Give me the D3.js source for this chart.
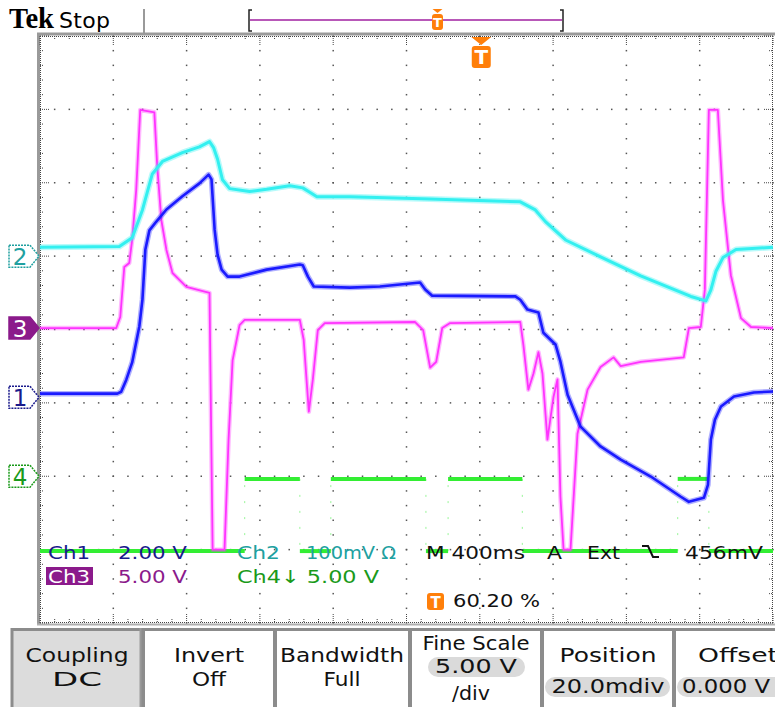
<!DOCTYPE html>
<html>
<head>
<meta charset="UTF-8">
<title>Tek capture</title>
<script src="https://cdn.jsdelivr.net/npm/d3@7/dist/d3.min.js"></script>
<style type="text/css">
body { margin: 0; background: #fff; }
svg { display: block; font-family: "DejaVu Sans", sans-serif; }
</style>
</head>
<body>
<div class="scope"></div>
<script>
// acquisition
var timePerDiv = 400;      // ms / div
var triggerPct = 60.2;     // trigger position, % of record
var divsX = 10, divsY = 8;

// Ch1, 2.00 V/div
var ch1Time  = [-2408,-1986,-1965,-1937,-1905,-1866,-1849,-1833,-1811,-1773,-1718,-1631,-1538,-1488,-1472,-1455,-1439,-1417,-1384,-1319,-1171,-990,-974,-946,-914,-717,-553,-334,-306,-268,186,213,252,312,339,405,432,471,542,651,761,925,1089,1133,1215,1237,1253,1275,1308,1379,1488,1592];
var ch1Volts = [0.1,0.1,0.15,0.48,0.95,1.93,2.66,4.03,4.55,4.79,5.12,5.48,5.83,6.07,5.94,4.57,3.89,3.48,3.29,3.29,3.48,3.62,3.6,3.29,3.02,2.99,3.02,3.13,2.94,2.77,2.75,2.66,2.39,2.31,1.76,1.44,0.97,0.07,-0.8,-1.34,-1.7,-2.16,-2.71,-2.85,-2.74,-2.39,-1.15,-0.61,-0.25,0.02,0.13,0.16];

// Ch2, 100 mV/div
var ch2Time = [-2408,-1975,-1905,-1849,-1795,-1740,-1631,-1538,-1483,-1461,-1439,-1412,-1373,-1264,-1171,-1045,-974,-936,-897,-717,-279,213,295,350,460,651,870,1144,1226,1253,1280,1319,1390,1592];
var ch2mV   = [12,13,25,63,112,129,141,149,156,148,132,104,92,88,91,96,93,87,81,81,78,74,63,47,22,-1,-27,-55,-61,-46,-21,-2,9,12];

// Ch3, 5.00 V/div
var ch3Time  = [-2408,-1992,-1970,-1948,-1921,-1905,-1883,-1861,-1784,-1768,-1746,-1718,-1685,-1609,-1483,-1466,-1401,-1379,-1357,-1319,-1291,-990,-969,-941,-919,-892,-854,-361,-317,-279,-246,-213,-170,213,230,257,285,312,334,361,394,416,432,449,487,525,580,651,722,761,870,1105,1133,1198,1220,1242,1291,1319,1362,1417,1472,1592];
var ch3Volts = [0,0,0.75,4.16,4.43,6.0,9.4,14.86,14.7,10.98,7.36,5.32,3.75,2.8,2.39,-15.1,-15.1,-7.6,-2.2,0.2,0.55,0.55,-0.8,-5.7,-3.5,-0.14,0.34,0.41,-0.14,-2.7,-2.3,0,0.34,0.41,-1.16,-4.2,-3.1,-1.64,-3.1,-7.6,-4.7,-3.5,-11.5,-15.1,-15.1,-7.2,-4.2,-2.66,-2.0,-2.6,-2.3,-2.0,0,0.07,2.6,14.86,14.86,8.7,3.6,0.68,0.07,0];

// Ch4, 5.00 V/div (logic level, steps)
var ch4Time  = [-2408,-1291,-990,-821,-302,-181,224,1072,1242,1592];
var ch4Volts = [-5.1,-0.18,-5.1,-0.18,-5.1,-0.18,-5.1,-0.18,-5.1,-5.1];

// readouts
var readRow1 = ["Ch1","2.00 V","Ch2","100mV \u03a9","M 400ms","A","Ext","456mV"];
var readRow2 = ["Ch3","5.00 V","Ch4\u2193 5.00 V"];
var trigReadout = "60.20 %";
var menuTitles = ["Coupling","Invert","Bandwidth","Fine Scale","Position","Offset"];
var menuValues = ["DC","Off","Full","5.00 V","20.0mdiv","0.000 V"];

var W = 775, H = 707;
var L = 40, R = 773, T = 36, B = 623;

var svg = d3.select(".scope").append("svg")
	.attr("width", W)
	.attr("height", H);

var tStart = -triggerPct / 100 * divsX * timePerDiv;
var x = d3.scaleLinear()
	.domain([tStart, tStart + divsX * timePerDiv])
	.range([L, R]);
var gx = d3.scaleLinear().domain([0, divsX]).range([L, R]);
var gy = d3.scaleLinear().domain([-divsY / 2, divsY / 2]).range([B, T]);

function chanY(vdiv, pos) {
	return d3.scaleLinear()
		.domain([(-divsY / 2 - pos) * vdiv, (divsY / 2 - pos) * vdiv])
		.range([B, T]);
}
var y1 = chanY(2, -0.924);
var y2 = chanY(100, 1.0);
var y3 = chanY(5, 0.02);
var y4 = chanY(5, -2.0);

// ---- graticule
var grid = svg.append("g");
var minors = d3.range(0, divsX * 5 + 1).map(function(d){ return d / 5; });
var minorsY = d3.range(0, divsY * 5 + 1).map(function(d){ return d / 5 - divsY / 2; });

d3.range(1, divsX).forEach(function(i){
	grid.selectAll(null).data(minorsY).enter().append("rect")
		.attr("x", gx(i) - 0.75).attr("y", function(d){ return gy(d) - 0.75; })
		.attr("width", 1.5).attr("height", 1.5).attr("fill", "#555");
});
d3.range(-divsY / 2 + 1, divsY / 2).forEach(function(j){
	grid.selectAll(null).data(minors).enter().append("rect")
		.attr("x", function(d){ return gx(d) - 0.75; }).attr("y", gy(j) - 0.75)
		.attr("width", 1.5).attr("height", 1.5).attr("fill", "#555");
});

// frame edges with ticks
grid.append("line").attr("x1", 37).attr("x2", W).attr("y1", 34).attr("y2", 34)
	.attr("stroke", "#9a9a9a").attr("stroke-width", 3);
grid.append("line").attr("x1", 38.5).attr("x2", 38.5).attr("y1", 33).attr("y2", 625)
	.attr("stroke", "#9a9a9a").attr("stroke-width", 3);
grid.append("line").attr("x1", 37).attr("x2", W).attr("y1", 624.5).attr("y2", 624.5)
	.attr("stroke", "#b0b0b0").attr("stroke-width", 2);

var edge = [
	[L + 0.5, T, L + 0.5, B], [R - 0.5, T, R - 0.5, B],
	[L, T + 0.5, R, T + 0.5], [L, B - 0.5, R, B - 0.5]
];
grid.selectAll(null).data(edge).enter().append("line")
	.attr("x1", function(d){ return d[0]; }).attr("y1", function(d){ return d[1]; })
	.attr("x2", function(d){ return d[2]; }).attr("y2", function(d){ return d[3]; })
	.attr("stroke", "#444").attr("stroke-dasharray", "1,1");

minors.forEach(function(d){
	var len = (Math.abs(d - Math.round(d)) < 0.01) ? 9 : 4;
	grid.append("line").attr("x1", gx(d)).attr("x2", gx(d)).attr("y1", T).attr("y2", T + len)
		.attr("stroke", "#444").attr("stroke-dasharray", "1,1");
	grid.append("line").attr("x1", gx(d)).attr("x2", gx(d)).attr("y1", B - len).attr("y2", B)
		.attr("stroke", "#444").attr("stroke-dasharray", "1,1");
});
minorsY.forEach(function(d){
	var len = (Math.abs(d - Math.round(d)) < 0.01) ? 9 : 4;
	grid.append("line").attr("x1", L).attr("x2", L + len).attr("y1", gy(d)).attr("y2", gy(d))
		.attr("stroke", "#444").attr("stroke-dasharray", "1,1");
	grid.append("line").attr("x1", R - len).attr("x2", R).attr("y1", gy(d)).attr("y2", gy(d))
		.attr("stroke", "#444").attr("stroke-dasharray", "1,1");
});

// ---- traces
var plot = svg.append("g");

function drawTrace(times, vals, ys, color, wide, thin) {
	var pts = times.map(function(t, i){ return [t, vals[i]]; });
	var line = d3.line().x(function(d){ return x(d[0]); }).y(function(d){ return ys(d[1]); });
	plot.append("path").attr("d", line(pts)).attr("fill", "none")
		.attr("stroke", color).attr("stroke-width", wide).attr("stroke-opacity", 0.35)
		.attr("stroke-linejoin", "round");
	plot.append("path").attr("d", line(pts)).attr("fill", "none")
		.attr("stroke", color).attr("stroke-width", thin)
		.attr("stroke-linejoin", "round");
}

// Ch4 steps: levels thick, edges faint
var ch4Col = "#33ee33";
ch4Time.slice(0, -1).forEach(function(t, i){
	var lvl = ch4Volts[i];
	plot.append("line")
		.attr("x1", x(t)).attr("x2", x(ch4Time[i + 1]))
		.attr("y1", y4(lvl)).attr("y2", y4(lvl))
		.attr("stroke", ch4Col).attr("stroke-width", 4);
	if (i > 0) {
		plot.append("line")
			.attr("x1", x(t)).attr("x2", x(t))
			.attr("y1", y4(ch4Volts[i - 1])).attr("y2", y4(lvl))
			.attr("stroke", ch4Col).attr("stroke-opacity", 0.5)
			.attr("stroke-dasharray", "2,14");
	}
});

drawTrace(ch3Time, ch3Volts, y3, "#ff33ff", 4.5, 1.8);
drawTrace(ch1Time, ch1Volts, y1, "#1a1aff", 5.5, 2.6);
drawTrace(ch2Time, ch2mV, y2, "#33f0f0", 6, 3);

// ---- channel ground markers
function marker(yc, label, stroke, fill, txt) {
	var g = svg.append("g");
	var p = "M9," + (yc - 11) + "H30L39," + yc + "L30," + (yc + 11) + "H9Z";
	g.append("path").attr("d", p)
		.attr("fill", fill || "#fff")
		.attr("stroke", stroke).attr("stroke-width", 1.5)
		.attr("stroke-dasharray", fill ? null : "2,1");
	g.append("text").attr("x", 20).attr("y", yc + 8.5)
		.attr("text-anchor", "middle").attr("font-size", 23)
		.attr("fill", txt).text(label);
}
marker(y2(0), "2", "#20a0a0", null, "#20a0a0");
marker(y3(0), "3", "#8b1a8b", "#8b1a8b", "#fff");
marker(y1(0), "1", "#1a1a8c", null, "#1a1a8c");
marker(y4(0), "4", "#1a9a1a", null, "#1a9a1a");

// ---- top status bar
svg.append("text").attr("x", 9).attr("y", 28)
	.attr("font-family", "Liberation Serif, serif").attr("font-weight", "bold")
	.attr("font-size", 29).attr("textLength", 45).attr("lengthAdjust", "spacingAndGlyphs")
	.text("Tek");
svg.append("text").attr("x", 59).attr("y", 28)
	.attr("font-size", 22).attr("textLength", 51).text("Stop");
svg.append("line").attr("x1", 144).attr("x2", 144).attr("y1", 9).attr("y2", 34)
	.attr("stroke", "#9a9a9a").attr("stroke-width", 2);

svg.append("path").attr("d", "M252,10H249V31H252").attr("fill", "none")
	.attr("stroke", "#222").attr("stroke-width", 1.5);
svg.append("path").attr("d", "M560,10H563V31H560").attr("fill", "none")
	.attr("stroke", "#222").attr("stroke-width", 1.5);
svg.append("line").attr("x1", 250).attr("x2", 562).attr("y1", 20).attr("y2", 20)
	.attr("stroke", "#a020a0").attr("stroke-width", 1.5);

var orange = "#ff7f0a";
function trigIcon(cx, top, w, h, tri, fs) {
	var g = svg.append("g");
	g.append("path").attr("d", "M" + (cx - tri) + "," + top + "L" + (cx + tri) + "," + top + "L" + cx + "," + (top + tri * 0.8) + "Z")
		.attr("fill", orange);
	g.append("rect").attr("x", cx - w / 2).attr("y", top + tri * 0.8 + 1)
		.attr("width", w).attr("height", h).attr("rx", 3).attr("fill", orange);
	g.append("text").attr("x", cx).attr("y", top + tri * 0.8 + 1 + h / 2 + fs * 0.36)
		.attr("text-anchor", "middle").attr("font-size", fs).attr("font-weight", "bold")
		.attr("fill", "#fff").text("T");
}
trigIcon(437.5, 9, 11, 16, 5, 13);
trigIcon(x(0), 37, 19, 22, 10, 20);

// ---- readouts
var rd = svg.append("g").attr("font-size", 18);
function rtext(s, x0, y0, w, col) {
	return rd.append("text").attr("x", x0).attr("y", y0)
		.attr("textLength", w).attr("lengthAdjust", "spacingAndGlyphs")
		.attr("fill", col).text(s);
}
rtext(readRow1[0], 48, 559, 42, "#1a1a8c");
rtext(readRow1[1], 118, 559, 69, "#1a1a8c");
rtext(readRow1[2], 237, 559, 43, "#20a0a0");
rtext(readRow1[3], 306, 559, 90, "#20a0a0");
rtext(readRow1[4], 426, 559, 99, "#111");
rtext(readRow1[5], 547, 559, 15, "#111");
rtext(readRow1[6], 587, 559, 33, "#111");
rd.append("path").attr("d", "M642,546H648L653,557H659").attr("fill", "none")
	.attr("stroke", "#111").attr("stroke-width", 2);
rtext(readRow1[7], 685, 559, 78, "#111");

rd.append("rect").attr("x", 46).attr("y", 567).attr("width", 47).attr("height", 18).attr("fill", "#8b1a8b");
rtext(readRow2[0], 48, 583, 42, "#fff");
rtext(readRow2[1], 118, 583, 69, "#8b1a8b");
rtext(readRow2[2], 237, 583, 142, "#1a9a1a");

rd.append("rect").attr("x", 427).attr("y", 593).attr("width", 17).attr("height", 17).attr("rx", 3).attr("fill", orange);
rd.append("text").attr("x", 435.5).attr("y", 607.5).attr("text-anchor", "middle")
	.attr("font-size", 15).attr("font-weight", "bold").attr("fill", "#fff").text("T");
rtext(trigReadout, 453, 607, 87, "#111");

// ---- side menu
var menu = svg.append("g").attr("font-size", 20).attr("fill", "#111");
var bx = [11, 143, 275, 410, 542, 674];
menu.append("rect").attr("x", 11).attr("y", 628).attr("width", W - 11).attr("height", H - 628).attr("fill", "#fff");
menu.append("rect").attr("x", 12).attr("y", 631).attr("width", 130).attr("height", 80).attr("fill", "#dcdcdc");
menu.append("line").attr("x1", 11).attr("x2", W).attr("y1", 629.5).attr("y2", 629.5)
	.attr("stroke", "#8c8c8c").attr("stroke-width", 3);
bx.forEach(function(b, i){
	menu.append("line").attr("x1", b + (i === 0 ? 1 : 0)).attr("x2", b + (i === 0 ? 1 : 0))
		.attr("y1", 628).attr("y2", H)
		.attr("stroke", "#8c8c8c").attr("stroke-width", i === 0 ? 3 : 4);
});
menu.append("line").attr("x1", 140.5).attr("x2", 140.5).attr("y1", 628).attr("y2", H)
	.attr("stroke", "#9a9a9a").attr("stroke-width", 2);

function pill(cx, cy, w) {
	menu.append("rect").attr("x", cx - w / 2).attr("y", cy - 10).attr("width", w).attr("height", 20)
		.attr("rx", 10).attr("fill", "#dadada");
}
var cxs = [77, 209, 342, 476, 608, 738];
var tl = [103, 70, 124, 107, 97, 80];
menuTitles.forEach(function(s, i){
	var yT = (i === 3) ? 650 : 662;
	menu.append("text").attr("x", cxs[i]).attr("y", yT).attr("text-anchor", "middle")
		.attr("textLength", tl[i]).attr("lengthAdjust", "spacingAndGlyphs").text(s);
});
pill(476.5, 667, 97);
pill(607.5, 687, 125);
pill(742, 687, 130);
var vl = [50, 34, 37, 82, 113, 88];
var vy = [686, 686, 686, 673, 693, 693];
menuValues.forEach(function(s, i){
	menu.append("text").attr("x", i === 5 ? 726 : cxs[i]).attr("y", vy[i]).attr("text-anchor", "middle")
		.attr("textLength", vl[i]).attr("lengthAdjust", "spacingAndGlyphs").text(s);
});
menu.append("text").attr("x", 471).attr("y", 700).attr("text-anchor", "middle")
	.attr("textLength", 38).attr("lengthAdjust", "spacingAndGlyphs").text("/div");
</script>
</body>
</html>
